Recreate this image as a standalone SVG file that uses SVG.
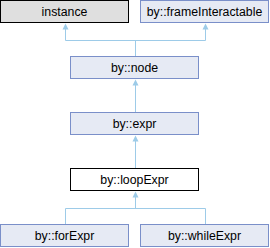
<svg xmlns="http://www.w3.org/2000/svg" width="270" height="248" viewBox="0 0 270 248">
<style>
.n rect{fill:#e6eaf4;stroke:#7a8fc9;stroke-width:1}
.n text{font-family:"Liberation Sans",Arial,sans-serif;font-size:12.3px;fill:#000;text-anchor:middle}
.ext rect{fill:#dfdfdf;stroke:#000}
.cur rect{fill:#fff;stroke:#000}
.c line,.c polyline{stroke:#9dcbe8;stroke-width:1;fill:none}
.c polygon{fill:#9dcbe8;stroke:none}
</style>
<rect width="270" height="248" fill="#fff"/>
<g class="c" id="connectors">
<polyline points="65.5,29 65.5,40.5 205.5,40.5 205.5,29"/>
<line x1="135.5" y1="40.5" x2="135.5" y2="56"/>
<polygon points="65.5,23.5 62.5,29.5 68.5,29.5"/>
<polygon points="205.5,23.5 202.5,29.5 208.5,29.5"/>
<line x1="135.5" y1="85" x2="135.5" y2="112"/>
<polygon points="135.5,79.5 132.5,85.5 138.5,85.5"/>
<line x1="135.5" y1="141" x2="135.5" y2="168"/>
<polygon points="135.5,135.5 132.5,141.5 138.5,141.5"/>
<polyline points="65.5,224 65.5,208.5 205.5,208.5 205.5,224"/>
<line x1="135.5" y1="197" x2="135.5" y2="208.5"/>
<polygon points="135.5,191.5 132.5,197.5 138.5,197.5"/>
</g>
<g class="n ext" id="instance"><rect x="0.5" y="0.5" width="128" height="22"/><text x="64.5" y="16">instance</text></g>
<g class="n" id="frameInteractable"><rect x="140.5" y="0.5" width="128" height="22"/><text x="204.5" y="16">by::frameInteractable</text></g>
<g class="n" id="node"><rect x="70.5" y="56.5" width="128" height="22"/><text x="134.5" y="72">by::node</text></g>
<g class="n" id="expr"><rect x="70.5" y="112.5" width="128" height="22"/><text x="134.5" y="128">by::expr</text></g>
<g class="n cur" id="loopExpr"><rect x="70.5" y="168.5" width="128" height="22"/><text x="134.5" y="184">by::loopExpr</text></g>
<g class="n" id="forExpr"><rect x="0.5" y="224.5" width="128" height="22"/><text x="64.5" y="240">by::forExpr</text></g>
<g class="n" id="whileExpr"><rect x="140.5" y="224.5" width="128" height="22"/><text x="204.5" y="240">by::whileExpr</text></g>
</svg>
